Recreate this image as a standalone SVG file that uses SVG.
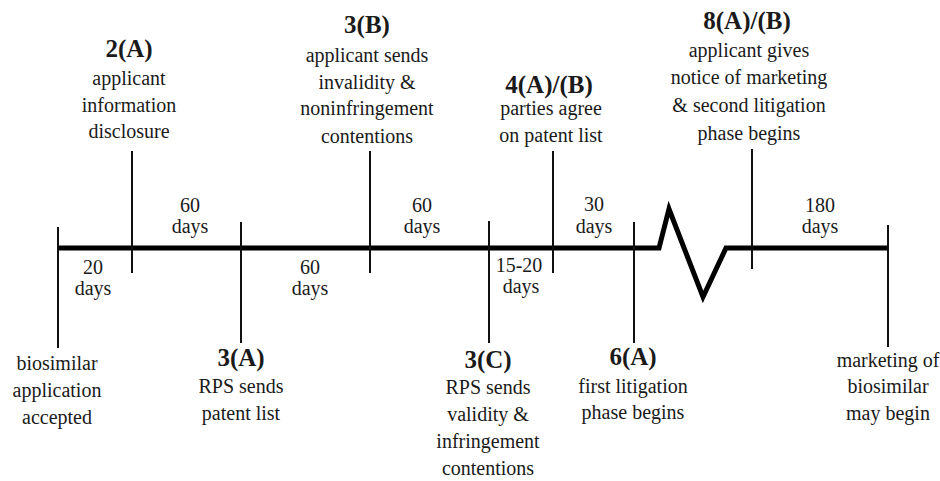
<svg xmlns="http://www.w3.org/2000/svg" width="940" height="481" viewBox="0 0 940 481" font-family="'Liberation Serif', 'DejaVu Serif', serif">
<style>
text{font-family:'Liberation Serif','DejaVu Serif',serif;fill:#1a1a1a;text-anchor:middle}
.h{font-weight:bold;font-size:25px}
.t{font-size:20px}
.tick{stroke:#111;stroke-width:2;fill:none}
.axis{stroke:#000;stroke-width:5;fill:none;stroke-linejoin:miter}
</style>
<rect width="940" height="481" fill="#fff"/>
<g id="connectors">
<polyline class="axis" points="58,248 659,248 669,209 703,297 726,248 888,248"/>
</g>
<g id="durations">
<text x="93" y="274" class="t">20</text><text x="93" y="295" class="t">days</text>
<text x="190" y="212" class="t">60</text><text x="190" y="233" class="t">days</text>
<text x="310" y="274" class="t">60</text><text x="310" y="295" class="t">days</text>
<text x="422" y="212" class="t">60</text><text x="422" y="233" class="t">days</text>
<text x="519" y="272" class="t">15-20</text><text x="521" y="293" class="t">days</text>
<text x="594" y="211" class="t">30</text><text x="594" y="233" class="t">days</text>
<text x="820" y="212" class="t">180</text><text x="820" y="233" class="t">days</text>
</g>
<g id="accepted">
<line class="tick" x1="58" y1="227" x2="58" y2="348"/>
<text x="57" y="370" class="t">biosimilar</text>
<text x="57" y="397" class="t">application</text>
<text x="57" y="424" class="t">accepted</text>
</g>
<g id="n2A">
<line class="tick" x1="132" y1="151" x2="132" y2="273"/>
<text x="129" y="57" class="h">2(A)</text>
<text x="129" y="85" class="t">applicant</text>
<text x="129" y="112" class="t">information</text>
<text x="129" y="138" class="t">disclosure</text>
</g>
<g id="n3A">
<line class="tick" x1="241" y1="222" x2="241" y2="343"/>
<text x="241" y="366" class="h">3(A)</text>
<text x="241" y="393" class="t">RPS sends</text>
<text x="241" y="420" class="t">patent list</text>
</g>
<g id="n3B">
<line class="tick" x1="370" y1="151" x2="370" y2="273"/>
<text x="367" y="33" class="h">3(B)</text>
<text x="367" y="62" class="t">applicant sends</text>
<text x="367" y="89" class="t">invalidity &amp;</text>
<text x="367" y="115" class="t">noninfringement</text>
<text x="367" y="143" class="t">contentions</text>
</g>
<g id="n3C">
<line class="tick" x1="489" y1="221" x2="489" y2="343"/>
<text x="488" y="368" class="h">3(C)</text>
<text x="488" y="394" class="t">RPS sends</text>
<text x="488" y="421" class="t">validity &amp;</text>
<text x="488" y="448" class="t">infringement</text>
<text x="488" y="475" class="t">contentions</text>
</g>
<g id="n4AB">
<line class="tick" x1="553" y1="151" x2="553" y2="273"/>
<text x="549" y="93" class="h">4(A)/(B)</text>
<text x="551" y="115" class="t">parties agree</text>
<text x="551" y="142" class="t">on patent list</text>
</g>
<g id="n6A">
<line class="tick" x1="634" y1="222" x2="634" y2="343"/>
<text x="633" y="365" class="h">6(A)</text>
<text x="633" y="393" class="t">first litigation</text>
<text x="633" y="419" class="t">phase begins</text>
</g>
<g id="n8AB">
<line class="tick" x1="752" y1="149" x2="752" y2="269"/>
<text x="747" y="29" class="h">8(A)/(B)</text>
<text x="749" y="57" class="t">applicant gives</text>
<text x="749" y="84" class="t">notice of marketing</text>
<text x="749" y="112" class="t">&amp; second litigation</text>
<text x="749" y="140" class="t">phase begins</text>
</g>
<g id="marketing">
<line class="tick" x1="888" y1="225" x2="888" y2="347"/>
<text x="888" y="367" class="t">marketing of</text>
<text x="888" y="393" class="t">biosimilar</text>
<text x="888" y="420" class="t">may begin</text>
</g>
</svg>
